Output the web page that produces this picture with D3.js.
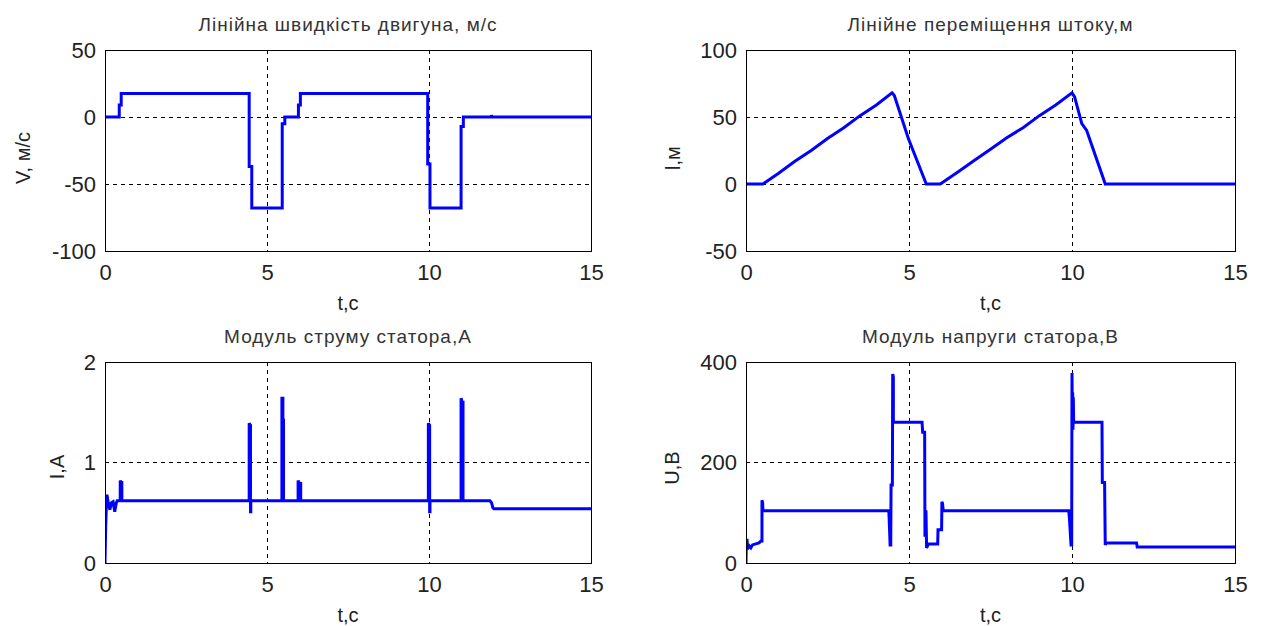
<!DOCTYPE html>
<html>
<head>
<meta charset="utf-8">
<script src="https://cdn.jsdelivr.net/npm/d3@7"></script>
<style>
    body { margin: 0; background: #fff; }
    svg text { font-family: "Liberation Sans", Arial, sans-serif; fill: #222; }
    .title { font-size: 19px; fill: #333; letter-spacing: 1px; }
    .tick text { font-size: 22px; }
    .label { font-size: 20px; }
</style>
</head>
<body>
<div class="figure-wrapper"></div>
<script>
// tick labels
var timeTicks = [0, 5, 10, 15];
var speedTicks = [-100, -50, 0, 50];
var moveTicks = [-50, 0, 50, 100];
var currentTicks = [0, 1, 2];
var voltageTicks = [0, 200, 400];

// series: [t, value]
var speed = [[0, 0], [0.44, 0], [0.44, 9], [0.5, 9], [0.5, 17.5], [4.45, 17.5], [4.45, -37], [4.53, -37],
    [4.53, -68], [5.47, -68], [5.47, -5], [5.55, -5], [5.55, 0], [5.97, 0], [5.97, 9], [6.03, 9],
    [6.03, 17.5], [9.96, 17.5], [9.96, -35], [10.03, -35], [10.03, -68], [10.99, -68], [10.99, -7],
    [11.06, -7], [11.06, 0], [11.92, 0], [11.93, 1.2], [11.95, 0], [15, 0]];

var move = [[0, 0], [0.52, 0], [1.0, 8], [1.5, 17], [2.0, 25], [2.5, 34], [3.0, 42], [3.5, 51],
    [4.0, 59], [4.48, 68], [4.55, 66], [4.98, 34], [5.53, 0], [5.96, 0], [6.5, 9], [7, 17.5],
    [7.5, 26], [8, 34.5], [8.5, 42], [9, 51], [9.5, 59], [10.0, 68], [10.08, 65], [10.3, 45],
    [10.45, 40], [11.02, 0], [15, 0]];

var current = [[0, 0], [0.02, 0.35], [0.04, 0.55], [0.06, 0.68], [0.1, 0.6], [0.15, 0.53], [0.2, 0.6],
    [0.25, 0.61], [0.3, 0.51], [0.35, 0.6], [0.38, 0.62], [0.47, 0.62], [0.47, 0.82], [0.5, 0.8],
    [0.52, 0.8], [0.52, 0.62],
    [4.45, 0.62], [4.45, 1.39], [4.49, 1.37], [4.49, 0.51], [4.5, 0.51], [4.5, 0.62],
    [5.46, 0.62], [5.46, 1.64], [5.49, 1.64], [5.49, 1.42], [5.51, 1.42], [5.51, 0.62],
    [5.96, 0.62], [5.96, 0.82], [6.0, 0.79], [6.04, 0.79], [6.04, 0.62],
    [9.98, 0.62], [9.98, 1.39], [10.02, 1.37], [10.02, 0.51], [10.03, 0.51], [10.03, 0.62],
    [10.99, 0.62], [10.99, 1.64], [11.02, 1.6], [11.05, 1.6], [11.05, 0.62],
    [11.88, 0.62], [11.93, 0.6], [11.97, 0.55], [12.0, 0.54], [15, 0.54]];

var voltage = [[0, 0], [0.01, 42], [0.02, 30], [0.03, 48], [0.05, 28], [0.1, 34], [0.15, 30], [0.2, 36],
    [0.3, 38], [0.4, 40], [0.46, 44], [0.49, 44], [0.49, 125], [0.51, 120], [0.52, 104],
    [4.38, 104], [4.39, 90], [4.42, 36], [4.44, 36], [4.45, 155], [4.49, 155], [4.5, 376], [4.52, 370],
    [4.52, 280], [5.40, 280], [5.42, 260], [5.48, 260], [5.49, 52], [5.52, 105], [5.54, 30], [5.6, 38],
    [5.88, 38], [5.89, 66], [6.0, 66], [6.01, 122], [6.03, 118], [6.05, 104],
    [9.9, 104], [9.92, 90], [9.97, 36], [9.99, 36], [10.0, 378], [10.01, 300], [10.02, 340],
    [10.03, 265], [10.04, 330], [10.05, 280], [10.92, 280], [10.93, 160], [11.0, 160], [11.02, 36],
    [11.05, 40], [11.98, 40], [12.0, 32], [15, 32]];

var panels = [
    {title: "Лінійна швидкість двигуна, м/с", ylabel: "V, м/с", data: speed, domain: [-100, 50],
        ticks: speedTicks, left: 105, right: 591, top: 50, bottom: 251, ylabelX: 30, ylabelY: 158},
    {title: "Лінійне переміщення штоку,м", ylabel: "l,м", data: move, domain: [-50, 100],
        ticks: moveTicks, left: 746, right: 1235, top: 50, bottom: 251, ylabelX: 680, ylabelY: 158},
    {title: "Модуль струму статора,А", ylabel: "I,А", data: current, domain: [0, 2],
        ticks: currentTicks, left: 105, right: 591, top: 362, bottom: 563, ylabelX: 64, ylabelY: 467},
    {title: "Модуль напруги статора,В", ylabel: "U,В", data: voltage, domain: [0, 400],
        ticks: voltageTicks, left: 746, right: 1235, top: 362, bottom: 563, ylabelX: 679, ylabelY: 468}
];

var plain = function (d) { return String(d); };

var svg = d3.select(".figure-wrapper").append("svg")
    .attr("width", 1261)
    .attr("height", 626);

panels.forEach(function (p, i) {
    var width = p.right - p.left;
    var height = p.bottom - p.top;

    var x = d3.scaleLinear().domain([0, 15]).range([0, width]);
    var y = d3.scaleLinear().domain(p.domain).range([height, 0]);

    var g = svg.append("g")
        .attr("transform", "translate(" + p.left + "," + p.top + ")");

    g.append("clipPath").attr("id", "clip" + i)
        .append("rect").attr("width", width).attr("height", height);

    // dashed grid
    g.selectAll(".vgrid").data(timeTicks).enter().append("line")
        .attr("x1", x).attr("x2", x).attr("y1", 0).attr("y2", height)
        .attr("stroke", "#000").attr("stroke-width", 1).attr("stroke-dasharray", "4,4")
        .attr("shape-rendering", "crispEdges");
    g.selectAll(".hgrid").data(p.ticks).enter().append("line")
        .attr("y1", y).attr("y2", y).attr("x1", 0).attr("x2", width)
        .attr("stroke", "#000").attr("stroke-width", 1).attr("stroke-dasharray", "4,4")
        .attr("shape-rendering", "crispEdges");

    var line = d3.line()
        .x(function (d) { return x(d[0]); })
        .y(function (d) { return y(d[1]); });

    g.append("path")
        .datum(p.data)
        .attr("clip-path", "url(#clip" + i + ")")
        .attr("fill", "none")
        .attr("stroke", "#0000ff")
        .attr("stroke-width", 3)
        .attr("stroke-linejoin", "miter")
        .attr("stroke-miterlimit", 2)
        .attr("d", line);

    g.append("rect")
        .attr("width", width).attr("height", height)
        .attr("fill", "none").attr("stroke", "#000").attr("stroke-width", 1)
        .attr("shape-rendering", "crispEdges");

    var xAxis = d3.axisBottom(x).tickValues(timeTicks).tickFormat(plain).tickSize(0).tickPadding(13);
    var yAxis = d3.axisLeft(y).tickValues(p.ticks).tickFormat(plain).tickSize(0).tickPadding(9);

    g.append("g").attr("transform", "translate(0," + height + ")").call(xAxis)
        .call(function (a) { a.select(".domain").remove(); });
    g.append("g").call(yAxis)
        .call(function (a) { a.select(".domain").remove(); });
    g.selectAll(".tick text").attr("fill", "#222").attr("font-family", null).attr("font-size", null);

    svg.append("text").attr("class", "title")
        .attr("x", p.left + width / 2).attr("y", p.top - 19)
        .attr("text-anchor", "middle").text(p.title);

    svg.append("text").attr("class", "label")
        .attr("x", p.left + width / 2).attr("y", p.bottom + 59)
        .attr("text-anchor", "middle").text("t,c");

    svg.append("text").attr("class", "label")
        .attr("transform", "translate(" + p.ylabelX + "," + p.ylabelY + ") rotate(-90)")
        .attr("text-anchor", "middle").text(p.ylabel);
});
</script>
</body>
</html>
